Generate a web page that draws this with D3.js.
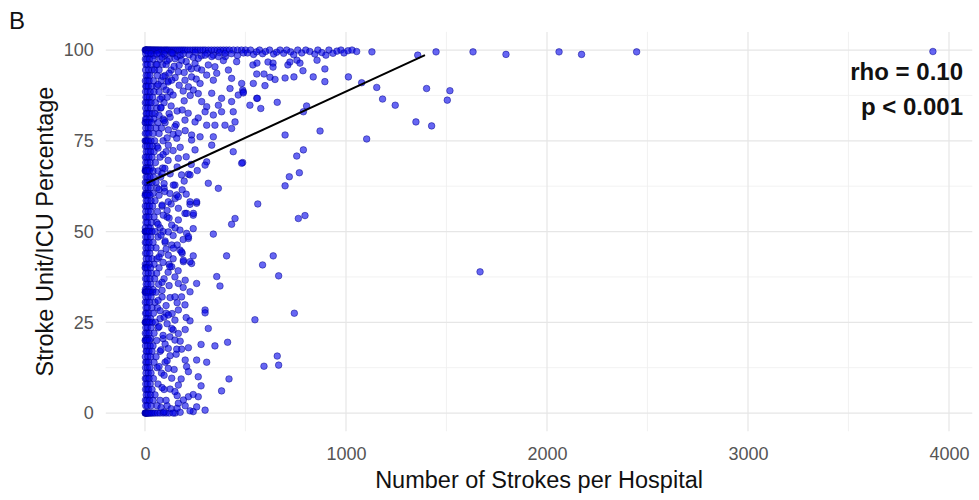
<!DOCTYPE html>
<html>
<head>
<meta charset="utf-8">
<script src="https://cdn.jsdelivr.net/npm/d3@7"></script>
<style>
  body { margin: 0; background: #fff; }
  svg text { font-family: "Liberation Sans", Arial, sans-serif; }
</style>
</head>
<body>
<svg id="chart" width="979" height="500"></svg>
<script>
// hospitals with 100% stroke unit / ICU care (strokes per hospital)
const fullRow = [1,3,5,8,10,14,18,22,26,30,35,40,45,50,56,62,68,75,82,90,98,105,112,120,130,140,150,
  160,170,180,190,200,212,225,238,250,262,275,288,300,315,330,345,360,375,390,405,420,440,460,480,500];

// near the top, bigger hospitals [strokes, pct]
const nearTop = [[25,99],[45,98.5],[70,99.2],[100,98.6],[130,99.3],[160,98.2],[190,99],[220,98.7],[250,99.4],
  [280,98.4],[310,99.1],[340,98.6],[370,99.3],[400,98.2],[430,99],[460,98.5],[490,99.2],
  [510,99.2],[525,100],[540,98.8],[555,99.5],[570,100],[585,99],[600,99.6],[620,100],[640,98.9],[655,99.4],
  [672,100],[690,99.1],[705,100],[725,99.5],[740,98.7],[760,100],[780,99.2],[800,100],[820,99.6],[845,98.9],
  [860,100],[880,99.3],[900,98.6],[915,100],[935,99.1],[955,99.7],[975,100],[990,99.2],[1010,99.8],[1030,100],
  [1053,99.6],[1129,99.5],[1357,98.6],[1448,99.5],[1632,99.5],[1796,98.8],[2060,99.5],[2172,98.8],[2446,99.5],[3920,99.6]];

// small hospitals, rows of [pct, strokes...]
const columnRows = [
  [99,[4,15,30,60,95,140]],[97.5,[2,9,22,40,75,120]],[96,[5,12,28,55,88,105]],[94.5,[3,18,35,48,70,130]],
  [93,[6,14,25,62,100]],[91.5,[2,10,20,42,80,115]],[90,[4,8,16,33,58,92]],[88.5,[3,12,26,45,70,125]],
  [87,[5,11,22,38,85,110]],[85.5,[2,9,18,30,52,95]],[84,[4,14,28,60,78]],[82.5,[6,10,20,36,50,120]],
  [81,[3,8,24,44,90]],[80,[1,5,12,20,33,65,100]],[78.5,[4,16,27,55,82]],[77,[2,9,19,40,70]],
  [75,[1,4,8,12,18,30,48,90]],[73.5,[3,11,24,38,60]],[72,[6,15,28,45,105]],[70.5,[2,9,20,35,75]],
  [69,[4,13,26,52]],[67.5,[3,8,18,30,88]],[66.7,[1,3,5,9,14,22,40,65]],[65,[5,12,25,42,78]],
  [63.5,[2,10,20,35,55]],[62,[4,15,28,60,95]],[60.5,[3,8,18,40]],[60,[1,5,12,25,70]],
  [58.5,[6,14,30,50]],[57,[2,10,22,38,85]],[55.5,[4,16,28,62]],[54,[3,9,20,45,110]],
  [52.5,[5,12,32,58]],[51,[2,18,26,75]],[50,[1,3,6,10,15,22,35,50,90]],[48.5,[4,12,28,65]],
  [47,[2,8,20,40,100]],[45.5,[5,15,30,55]],[44,[3,10,24,80]],[42.5,[6,18,35,60]],
  [41,[2,9,22,45,120]],[40,[1,5,12,28,70]],[38.5,[4,16,32,58]],[37,[3,10,25,48,95]],
  [35.5,[6,14,30,68]],[34,[2,8,20,40]],[33.3,[1,3,5,8,12,18,26,38,55]],[32,[4,15,30,85]],
  [30.5,[2,10,22,50]],[29,[5,12,35,62]],[27.5,[3,8,18,42,105]],[26,[6,14,28,75]],
  [25,[1,3,6,10,16,24,36,52]],[23.5,[4,12,30,65]],[22,[2,9,20,45]],[20.5,[5,15,28,90]],
  [20,[1,4,10,22,58]],[18.5,[3,12,26,40]],[17,[6,10,20,35,75]],[15.5,[2,14,28,55]],
  [14,[4,9,18,45,100]],[12.5,[3,12,24,60]],[11,[5,16,30,82]],[9.5,[2,8,20,42]],
  [8,[4,12,26,65]],[6.5,[3,10,18,35,95]],[5,[6,15,28,50]],[3.5,[2,9,22,40,75]],
  [2,[4,12,30,60,110]],[0,[1,2,4,6,9,12,16,20,26,32,40,50,62,75,90,105,120]]
];

// second band of small hospitals, 60-260 strokes [strokes, pct]
const midColumn = [
  [60,96],[85,98],[110,97],[145,95.5],[175,98.5],[205,96.8],[230,94.8],[260,95],[120,93.6],[90,92.7],
  [150,97.6],[195,93.8],[135,99.2],[240,98],[170,95.8],
  [65,90.5],[105,89],[140,87.6],[170,90.3],[195,86],[225,87.5],[255,92],[75,86.5],[130,84.6],[160,83.2],
  [190,88.7],[265,88],[115,91.2],[150,92.4],
  [70,82],[95,80.6],[125,81.5],[155,79.5],[185,83.5],[215,82.6],[265,81.3],[110,75.8],[140,76.8],[200,77.8],[80,84.2],
  [65,73],[90,71.2],[115,69.6],[140,72.3],[175,73.2],[205,70.6],[230,68.5],[85,66],[125,65.9],[160,67.8],[195,63.9],[260,66.8],
  [70,61.6],[95,63.2],[130,57.6],[150,59.1],[185,61.5],[110,55.8],[85,57.3],[205,60.3],
  [65,52],[80,49],[100,47.4],[120,53.7],[150,51],[190,47.8],[140,48.9],[105,45.2],[160,46.3],[240,50.8],
  [70,43],[90,41.5],[115,38.8],[140,42.5],[165,39.2],[200,36.6],[85,36],[120,35.1],[185,44],
  [65,31],[85,33.8],[105,29.6],[125,31.8],[160,30.4],[190,34.6],[95,26.4],[135,27.4],[205,26.3],[75,28.2],
  [70,23.8],[90,21.4],[110,24.6],[140,22.9],[175,19.8],[200,23],[80,17.4],[125,15.8],[155,16.2],[100,19],
  [70,12.8],[95,10.4],[110,14.4],[145,12],[180,9.4],[200,14.6],[85,7],[125,6.6],[160,4.8],[105,3.5],
  [130,1.2],[150,0],[175,0.2],[200,2],[140,0],[160,1.3],[80,1.5],[95,0.3]
];

// scattered mid-size hospitals [strokes, pct]
const spread = [
  [182,97.2],[216,95.4],[249,96.3],[282,94.5],[315,95.9],[365,98.2],[232,92.6],[166,94.0],[199,91.7],[133,91.7],
  [265,97.7],[332,98.2],[398,99.1],[299,98.6],[348,95.4],[456,96.8],[390,97.1],[415,94.5],[357,93.6],[431,92.2],
  [481,90.8],[489,88.5],[464,87.6],[423,89.4],[340,91.7],[307,93.1],[274,90.8],[240,89.0],[216,89.9],[332,88.1],
  [381,86.7],[431,85.8],[365,84.8],[307,84.4],[282,85.8],[299,83.0],[340,82.1],[381,83.0],[439,83.0],[448,80.2],
  [398,79.3],[431,78.4],[348,79.3],[307,79.3],[249,80.2],[199,80.7],[149,78.9],[116,78.0],[166,77.1],[232,76.6],
  [340,76.1],[522,84.8],[556,86.7],[539,90.8],
  [537,95.9],[557,96.4],[612,96.7],[637,96.4],[637,95.3],[711,95.9],[721,96.7],[756,97.2],[771,96.4],[786,94.3],
  [856,97.2],[895,94.8],[556,93.4],[592,93.4],[622,92.5],[647,91.9],[697,92.3],[741,92.6],[837,92.6],[895,91.3],
  [1012,92.6],[1078,91.0],[597,90.2],[486,89.0],[489,88.2],[1153,89.7],[1401,89.4],[1517,88.8],[1504,86.2],
  [1182,86.5],[1245,84.8],[559,86.7],[576,83.9],[658,85.6],[804,84.6],[788,83.0],[1348,80.2],[1426,79.1],
  [1103,75.5],[871,77.7],[697,76.6],[486,69.0],[788,72.5],[755,70.8],[768,66.2],[718,65.1],[697,62.6],
  [561,57.6],[763,53.6],[796,54.4],
  [638,43.3],[585,40.8],[665,37.8],[1667,38.9],[743,27.5],[547,25.7],[658,15.7],[592,12.9],[665,13.2],
  [439,72.0],[481,68.8],[315,63.3],[365,61.9],[448,53.6],[431,52.0],[257,57.8],[224,57.5],[240,54.5],[199,55.0],
  [158,60.1],[149,62.8],[182,65.6],[216,65.8],[307,69.2],[299,68.3],[249,72.5],[332,73.8],[116,73.8],[158,75.7],
  [232,75.2],[274,76.1],[166,70.2],[99,67.4],[116,58.2],[99,61.0],[91,54.5],[133,51.8],[166,53.2],[116,49.9],
  [340,49.3],[406,43.3],[357,37.6],[373,35.0],[299,28.4],[299,27.6],[224,33.4],[257,35.7],[240,43.3],[232,41.2],
  [191,41.7],[207,49.5],[216,48.1],[174,44.9],[182,44.4],[149,37.5],[166,35.7],[149,32.0],[182,32.0],[199,29.8],
  [166,28.4],[149,25.6],[224,25.4],[116,27.0],[133,40.3],[116,43.5],[133,46.3],
  [315,23.3],[411,19.5],[348,18.5],[279,18.9],[216,18.0],[182,17.6],[158,17.6],[257,14.6],[307,14.0],[207,12.8],
  [216,11.4],[265,10.0],[418,9.4],[279,7.5],[381,6.1],[216,4.5],[240,5.1],[265,4.5],[191,3.6],[166,2.7],
  [257,1.7],[240,0.4],[224,0.6],[299,0.8],[166,7.7],[149,5.9],[133,9.6],[116,12.3],[133,23.3],[166,21.9],
  [124,21.0],[116,17.8],[149,20.1],
  [241,55.0],[207,55.0],[224,58.2],[257,58.2],[224,65.6],[141,62.8],[166,59.6],[124,60.5],[166,56.4],[174,50.4],
  [216,48.6],[141,45.4],[191,42.1],[224,41.7],[124,40.3]
];

// fitted line
const fitX = [8, 1393];
const fitY = [63.3, 98.6];

const xTicks = [0, 1000, 2000, 3000, 4000];
const yTicks = [0, 25, 50, 75, 100];
const statLines = ["rho = 0.10", "p < 0.001"];

let points = [];
fullRow.forEach(function(x){ points.push([x, 100]); });
nearTop.forEach(function(d){ points.push(d); });
columnRows.forEach(function(r){ r[1].forEach(function(x){ points.push([x, r[0]]); }); });
midColumn.forEach(function(d){ points.push(d); });
spread.forEach(function(d){ points.push(d); });

const svg = d3.select('#chart');
const panel = {left: 105.8, right: 972.3, top: 31.9, bottom: 431.2};

const xExt = d3.extent(points, function(d){ return d[0]; });
const xPad = (xExt[1] - xExt[0]) * 0.05;
const x = d3.scaleLinear().domain([xExt[0] - xPad, xExt[1] + xPad]).range([panel.left, panel.right]);
const y = d3.scaleLinear().domain([-5, 105]).range([panel.bottom, panel.top]);

// grid
const xMinor = [500, 1500, 2500, 3500];
const yMinor = [12.5, 37.5, 62.5, 87.5];
const grid = svg.append('g');
grid.selectAll('line.xmin').data(xMinor).enter().append('line')
  .attr('x1', x).attr('x2', x).attr('y1', panel.top).attr('y2', panel.bottom)
  .attr('stroke', '#efefef').attr('stroke-width', 0.8);
grid.selectAll('line.ymin').data(yMinor).enter().append('line')
  .attr('y1', y).attr('y2', y).attr('x1', panel.left).attr('x2', panel.right)
  .attr('stroke', '#efefef').attr('stroke-width', 0.8);
grid.selectAll('line.xmaj').data(xTicks).enter().append('line')
  .attr('x1', x).attr('x2', x).attr('y1', panel.top).attr('y2', panel.bottom)
  .attr('stroke', '#e6e6e6').attr('stroke-width', 1.2);
grid.selectAll('line.ymaj').data(yTicks).enter().append('line')
  .attr('y1', y).attr('y2', y).attr('x1', panel.left).attr('x2', panel.right)
  .attr('stroke', '#e6e6e6').attr('stroke-width', 1.2);

// axes (text only, like theme_minimal)
const xAxis = svg.append('g').attr('transform', 'translate(0,' + panel.bottom + ')')
  .call(d3.axisBottom(x).tickValues(xTicks).tickFormat(d3.format('d')).tickSize(0).tickPadding(16));
const yAxis = svg.append('g').attr('transform', 'translate(' + panel.left + ',0)')
  .call(d3.axisLeft(y).tickValues(yTicks).tickFormat(d3.format('d')).tickSize(0).tickPadding(12));
[xAxis, yAxis].forEach(function(a){
  a.select('.domain').remove();
  a.selectAll('text').attr('fill', '#555').style('font-size', '18px')
    .style('font-family', '"Liberation Sans", Arial, sans-serif');
});

// points
svg.append('g').selectAll('circle').data(points).enter().append('circle')
  .attr('cx', function(d){ return x(d[0]); })
  .attr('cy', function(d){ return y(d[1]); })
  .attr('r', 3.3)
  .attr('fill', 'rgba(0,0,235,0.6)')
  .attr('stroke', 'rgba(0,0,140,0.6)')
  .attr('stroke-width', 0.8);

// fitted line
const line = d3.line().x(function(d){ return x(d[0]); }).y(function(d){ return y(d[1]); });
svg.append('path')
  .datum(fitX.map(function(v, i){ return [v, fitY[i]]; }))
  .attr('d', line)
  .attr('fill', 'none').attr('stroke', '#000').attr('stroke-width', 2);

// stats text
svg.selectAll('text.stat').data(statLines).enter().append('text')
  .attr('class', 'stat')
  .attr('x', 963).attr('y', function(d, i){ return 80 + i * 35; })
  .attr('text-anchor', 'end')
  .style('font-size', '24px').style('font-weight', 'bold').attr('fill', '#111')
  .text(function(d){ return d; });

// titles
svg.append('text').attr('x', (panel.left + panel.right) / 2).attr('y', 488)
  .attr('text-anchor', 'middle').style('font-size', '23.5px').attr('fill', '#111')
  .text('Number of Strokes per Hospital');
svg.append('text').attr('transform', 'translate(53,' + ((panel.top + panel.bottom) / 2) + ') rotate(-90)')
  .attr('text-anchor', 'middle').style('font-size', '23.5px').attr('fill', '#111')
  .text('Stroke Unit/ICU Percentage');
svg.append('text').attr('x', 9).attr('y', 29).style('font-size', '24px').attr('fill', '#111').text('B');
</script>
</body>
</html>
